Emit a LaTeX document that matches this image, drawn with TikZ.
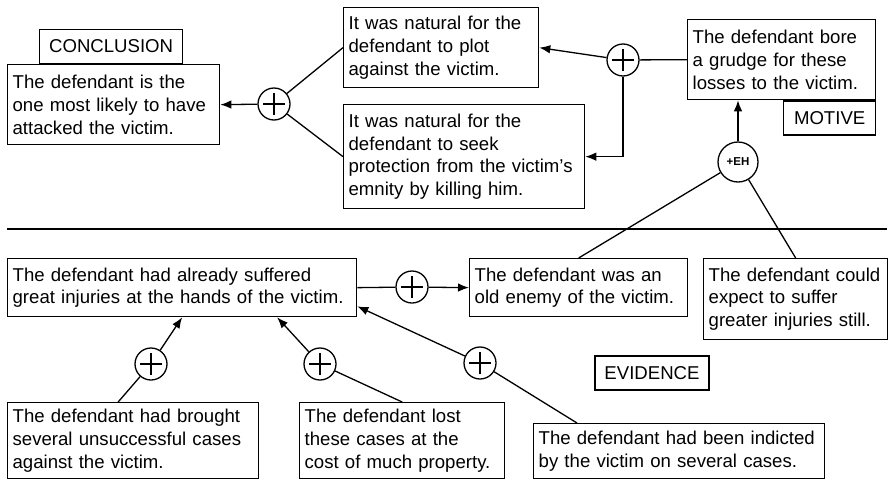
\documentclass[tikz,border=0pt]{standalone}
\usepackage{fontspec}
\setmainfont{Liberation Sans}
\usetikzlibrary{arrows.meta}

\begin{document}
\begin{tikzpicture}[x=1pt, y=-1pt, >={Latex[length=11pt,width=8.5pt]}, line width=1.3pt,
    font=\fontsize{18.6}{22.7}\selectfont,
    claim/.style={draw, anchor=north west, align=left, inner xsep=5pt, inner ysep=6pt, text width=#1},
    tag/.style={draw, inner sep=0pt, minimum height=34pt},
    plusnode/.style={circle, draw, minimum size=32pt, inner sep=0pt, path picture={
      \draw ([xshift=-11pt]path picture bounding box.center) -- ([xshift=11pt]path picture bounding box.center);
      \draw ([yshift=-11pt]path picture bounding box.center) -- ([yshift=11pt]path picture bounding box.center);}}]
  \useasboundingbox (0,0) rectangle (890,482);

  % upper part
  \node[claim=202pt, minimum height=80pt] (concl) at (7,64) {The defendant is the\\ one most likely to have\\ attacked the victim.};
  \node[tag, minimum width=143pt, anchor=south west] (conclTag) at ([xshift=32pt]concl.north west) {CONCLUSION};
  \node[claim=185pt, minimum height=80pt] (plot) at (343,7) {It was natural for the\\ defendant to plot\\ against the victim.};
  \node[claim=231pt, minimum height=104pt] (seek) at (343,104) {It was natural for the\\ defendant to seek\\ protection from the victim’s\\ emnity by killing him.};
  \node[claim=178pt, minimum height=80pt] (motive) at (687,19) {The defendant bore\\ a grudge for these\\ losses to the victim.};
  \node[tag, minimum width=92pt, anchor=north east] (motiveTag) at (motive.south east) {MOTIVE};

  \node[plusnode] (p1) at (274,104) {};
  \node[plusnode] (p2) at (623,60) {};
  \node[circle, draw, minimum size=40pt, inner sep=0pt, font=\bfseries\fontsize{11.5}{12}\selectfont] (eh) at (738,162) {+EH};

  \draw[->] (p1) -- (concl.east);
  \draw (p1) -- (plot.west);
  \draw (p1) -- (seek.west);
  \draw[->] (p2) -- (plot.east);
  \draw[->] (p2) |- (seek.east);
  \draw (p2) -- (motive.west);
  \draw[->] (eh) -- (eh |- motive.south);

  \draw (7,229) -- (887,229);

  % evidence
  \node[claim=339pt, minimum height=58pt] (suffer) at (7,258) {The defendant had already suffered\\ great injuries at the hands of the victim.};
  \node[claim=208pt, minimum height=58pt] (enemy) at (469,258) {The defendant was an\\ old enemy of the victim.};
  \node[claim=174pt, minimum height=81pt] (expect) at (703,258) {The defendant could\\ expect to suffer\\ greater injuries still.};
  \node[claim=241pt, minimum height=76pt] (brought) at (7,402) {The defendant had brought\\ several unsuccessful cases\\ against the victim.};
  \node[claim=195pt, minimum height=76pt] (lost) at (299,402) {The defendant lost\\ these cases at the\\ cost of much property.};
  \node[claim=281pt, minimum height=55pt] (indict) at (533,423) {The defendant had been indicted\\ by the victim on several cases.};
  \node[tag, minimum width=114pt] (evidTag) at (652,373) {EVIDENCE};

  \node[plusnode] (p3) at (412,287) {};
  \node[plusnode] (p4) at (151,364) {};
  \node[plusnode] (p5) at (320,364) {};
  \node[plusnode] (p6) at (480,363) {};

  \draw (eh) -- (enemy.north);
  \draw (eh) -- (expect.north);
  \draw (suffer.east) -- (p3);
  \draw[->] (p3) -- (enemy.west);
  \draw[->] (p4) -- (suffer.south);
  \draw (p4) -- ([xshift=-15pt]brought.north);
  \draw[->] (p5) -- ([xshift=95pt]suffer.south);
  \draw (p5) -- (lost.north);
  \draw[->] (p6) -- ([yshift=11pt]suffer.south east);
  \draw (p6) -- ([xshift=44pt]indict.north west);
\end{tikzpicture}
\end{document}
